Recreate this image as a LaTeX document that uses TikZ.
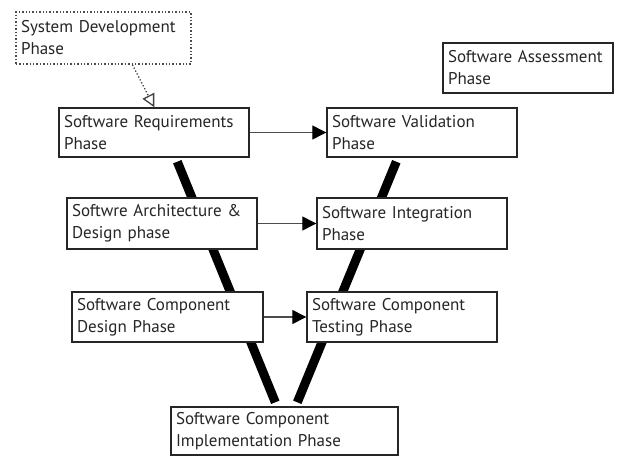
\documentclass[tikz,border=0pt]{standalone}
\usepackage{fontspec}
\setmainfont{PT Sans}
\usetikzlibrary{arrows.meta,backgrounds}
\begin{document}
\begin{tikzpicture}[x=1pt,y=-1pt,
  phase/.style={draw=black!85,line width=1.4pt,fill=white,inner xsep=5pt,inner ysep=1pt,
    align=left,font=\fontsize{17}{22}\selectfont,text=black!85},
  ext/.style={phase,draw=black!70,dotted,line width=1.3pt},
  flow/.style={draw=black!70,line width=1.3pt,-{Triangle[length=14pt,width=14pt,color=black]}},
  feed/.style={draw=black!75,dotted,line width=1.3pt,-{Triangle[open,length=13pt,width=13pt]}},
  vee/.style={line width=9pt,black}]
\useasboundingbox (0,0) rectangle (620,457);
% phase boxes (centre, width, height)
\newcommand{\phasebox}[7]{%
  \node[#1,minimum width=#4pt,minimum height=#5pt,text width=#6pt] (#2) at (#3) {#7};}
\phasebox{ext}{sys}{103.5,38}{175}{52}{165}{System Development\\Phase}
\phasebox{phase}{req}{154,132.5}{190}{49}{180}{Software Requirements\\Phase}
\phasebox{phase}{val}{422,132.5}{190}{49}{180}{Software Validation\\Phase}
\phasebox{phase}{asm}{528,68}{170}{50}{160}{Software Assessment\\Phase}
\phasebox{phase}{arch}{162,223.5}{190}{51}{180}{Softwre Architecture \&\\Design phase}
\phasebox{phase}{integ}{412,223.5}{190}{51}{180}{Software Integration\\Phase}
\phasebox{phase}{cdes}{167.5,317}{191}{50}{181}{Software Component\\Design Phase}
\phasebox{phase}{ctest}{402,317}{190}{50}{180}{Software Component\\Testing Phase}
\phasebox{phase}{impl}{284.5,431}{227}{48}{217}{Software Component\\Implementation Phase}
% the V itself, behind the boxes
\begin{scope}[on background layer]
  \draw[vee] ([xshift=119pt,yshift=-4pt]req.south west) -- ([xshift=105pt,yshift=4pt]impl.north west);
  \draw[vee] ([xshift=70pt,yshift=-4pt]val.south west) -- ([xshift=127pt,yshift=4pt]impl.north west);
\end{scope}
% verification links
\draw[flow] (req.east) -- (val.west);
\draw[flow] (arch.east) -- (integ.west);
\draw[flow] (cdes.east) -- (ctest.west);
% input from system level
\draw[feed] ([xshift=117pt]sys.south west) -- ([xshift=96pt]req.north west);
\end{tikzpicture}
\end{document}
